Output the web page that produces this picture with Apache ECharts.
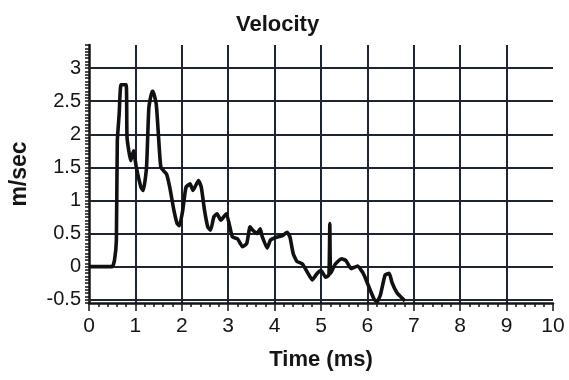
<!DOCTYPE html>
<html>
<head>
<meta charset="utf-8">
<script src="https://cdn.jsdelivr.net/npm/echarts@6/dist/echarts.min.js"></script>
<style>html,body{margin:0;padding:0;background:#fff;}#c{width:569px;height:380px;}</style>
</head>
<body>
<div id="c"></div>
<script>
// Data
var timeMs = [0, 0.5, 0.55, 0.59, 0.61, 0.65, 0.69, 0.80, 0.82, 0.90, 0.96, 1.02, 1.12, 1.17, 1.24, 1.29, 1.36, 1.38, 1.45, 1.50, 1.55, 1.67, 1.74, 1.83, 1.90, 1.95, 2.02, 2.09, 2.18, 2.24, 2.36, 2.42, 2.49, 2.56, 2.62, 2.69, 2.76, 2.84, 2.96, 3.02, 3.09, 3.20, 3.31, 3.40, 3.47, 3.53, 3.62, 3.69, 3.73, 3.84, 3.91, 4.02, 4.17, 4.27, 4.33, 4.40, 4.48, 4.60, 4.71, 4.81, 4.92, 5.00, 5.10, 5.17, 5.19, 5.21, 5.31, 5.44, 5.54, 5.65, 5.79, 5.90, 5.96, 6.04, 6.15, 6.21, 6.28, 6.38, 6.47, 6.53, 6.64, 6.74, 6.81];
var velocity = [0, 0, 0.1, 0.4, 1.9, 2.3, 2.75, 2.75, 1.95, 1.6, 1.75, 1.5, 1.2, 1.15, 1.5, 2.4, 2.65, 2.65, 2.45, 1.95, 1.5, 1.4, 1.2, 0.85, 0.65, 0.62, 0.85, 1.2, 1.25, 1.15, 1.3, 1.2, 0.85, 0.6, 0.55, 0.75, 0.8, 0.7, 0.8, 0.65, 0.45, 0.42, 0.3, 0.35, 0.6, 0.55, 0.5, 0.57, 0.46, 0.28, 0.4, 0.44, 0.47, 0.52, 0.45, 0.2, 0.08, 0.04, -0.09, -0.2, -0.1, -0.06, -0.16, -0.13, 0.65, -0.1, 0.04, 0.12, 0.09, -0.03, 0.01, -0.09, -0.18, -0.32, -0.5, -0.53, -0.43, -0.13, -0.1, -0.24, -0.4, -0.47, -0.52];
var yGridValues = [-0.5, 0, 0.5, 1, 1.5, 2, 2.5, 3];
var xTickLabels = ['0','1','2','3','4','5','6','7','8','9','10'];

var pts = timeMs.map(function (t, i) { return [t, velocity[i]]; });
var ink = '#151515';
var gridColor = '#1d2533';
var font = 'Liberation Sans, Arial, sans-serif';

var chart = echarts.init(document.getElementById('c'), null, {renderer: 'canvas'});
chart.setOption({
  backgroundColor: '#ffffff',
  animation: false,
  title: {
    text: 'Velocity',
    left: 231, top: 9,
    textStyle: {fontFamily: font, fontSize: 22, fontWeight: 'bold', color: ink}
  },
  grid: {left: 88, right: 16, top: 45, bottom: 77, containLabel: false},
  xAxis: {
    type: 'value', min: 0, max: 10, interval: 1,
    name: 'Time (ms)', nameLocation: 'middle', nameGap: 46,
    nameTextStyle: {fontFamily: font, fontSize: 22, fontWeight: 'bold', color: ink},
    axisLine: {show: true, onZero: false, lineStyle: {color: ink, width: 2.5}},
    axisTick: {show: true, inside: false, length: 8, lineStyle: {color: ink, width: 1.5}},
    minorTick: {show: true, splitNumber: 5, length: 4, lineStyle: {color: ink, width: 1.5}},
    axisLabel: {
      margin: 13, fontFamily: font, fontSize: 21, color: ink,
      formatter: function (v) { return xTickLabels[Math.round(v)]; }
    },
    splitLine: {show: true, showMinLine: false, showMaxLine: false, lineStyle: {color: gridColor, width: 2}}
  },
  yAxis: {
    type: 'value', min: -0.55, max: 3.35, interval: 0.05,
    name: 'm/sec', nameLocation: 'middle', nameGap: 58, nameRotate: 90,
    nameTextStyle: {fontFamily: font, fontSize: 23, fontWeight: 'bold', color: ink},
    axisLine: {show: true, onZero: false, lineStyle: {color: ink, width: 2.5}},
    axisTick: {show: true, inside: false, length: 4, lineStyle: {color: ink, width: 1.5}},
    axisLabel: {
      margin: 8, fontFamily: font, fontSize: 20, color: ink,
      formatter: function (v) {
        var d = v * 2;
        if (Math.abs(d - Math.round(d)) > 1e-6) return '';
        var r = Math.round(d) / 2;
        return String(r);
      }
    },
    splitLine: {show: false}
  },
  series: [{
    type: 'line',
    data: pts,
    showSymbol: false,
    smooth: 0.15,
    z: 3,
    lineStyle: {color: '#111', width: 3.6},
    markLine: {
      silent: true, symbol: 'none', z: 1,
      label: {show: false},
      lineStyle: {color: gridColor, width: 2, type: 'solid'},
      data: yGridValues.map(function (v) { return {yAxis: v}; })
    }
  }]
});
</script>
</body>
</html>
